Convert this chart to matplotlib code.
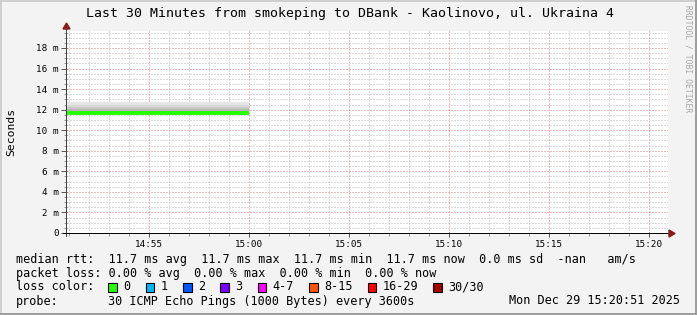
import matplotlib
matplotlib.use("Agg")
import matplotlib.pyplot as plt
from matplotlib.patches import Rectangle, Polygon
from matplotlib.transforms import Affine2D

# ---------------- data ----------------
title = "Last 30 Minutes from smokeping to DBank - Kaolinovo, ul. Ukraina 4"
# time in minutes after 14:00
seg_times = [50.9, 60.0]          # data segment (start of window .. 15:00)
median_ms = [11.7, 11.7]
smoke_tops_ms = [12.7, 12.5, 12.3, 12.1]   # smoke layers above the median
smoke_colors = ["#e6e6e6", "#d8d8d8", "#c8c8c8", "#b6b6b6"]
x_range = [50.9, 80.95]
y_range = [0, 19.65]
x_ticks = [55, 60, 65, 70, 75, 80]
x_labels = ["14:55", "15:00", "15:05", "15:10", "15:15", "15:20"]
y_ticks = [0, 2, 4, 6, 8, 10, 12, 14, 16, 18]
y_labels = ["0", "2 m", "4 m", "6 m", "8 m", "10 m", "12 m", "14 m", "16 m", "18 m"]
y_label = "Seconds"

legend_line1 = "median rtt:  11.7 ms avg  11.7 ms max  11.7 ms min  11.7 ms now  0.0 ms sd  -nan   am/s"
legend_line2 = "packet loss: 0.00 % avg  0.00 % max  0.00 % min  0.00 % now"
loss_labels = ["0", "1", "2", "3", "4-7", "8-15", "16-29", "30/30"]
loss_colors = ["#26ff00", "#00b8ff", "#0059ff", "#7e00ff", "#ff00ff", "#ff5500", "#ff0000", "#a00000"]
probe_text = "30 ICMP Echo Pings (1000 Bytes) every 3600s"
date_text = "Mon Dec 29 15:20:51 2025"
watermark = "RRDTOOL / TOBI OETIKER"

# ---------------- figure ----------------
W, H = 697, 315
DPI = 100
MONO = "DejaVu Sans Mono"
fig = plt.figure(figsize=(W / DPI, H / DPI), dpi=DPI, facecolor="#f3f3f3")
px = Affine2D().scale(1 / W, -1 / H).translate(0, 1) + fig.transFigure

L, R, T, B = 67, 668, 31, 233
ax = fig.add_axes([L / W, 1 - B / H, (R - L) / W, (B - T) / H])
ax.set_facecolor("white")
ax.set_xlim(*x_range)
ax.set_ylim(*y_range)

# grid
dot = (0, (1, 2))
ax.set_xticks(x_ticks)
ax.set_xticks([m for m in range(51, 81)], minor=True)
ax.set_yticks(y_ticks)
ax.set_yticks([v * 0.5 for v in range(1, 40)], minor=True)
ax.grid(which="minor", color="#b8b8b8", linestyle=dot, linewidth=0.72)
ax.grid(which="major", color="#e08080", linestyle=dot, linewidth=0.72)
ax.set_axisbelow(True)

# smoke + median
for top, col in zip(smoke_tops_ms, smoke_colors):
    ax.fill_between(seg_times, median_ms, [top] * len(seg_times), color=col, linewidth=0, zorder=2)
ax.plot(seg_times, median_ms, color="#26ff00", linewidth=2.8, solid_capstyle="butt", zorder=3)

for s in ax.spines.values():
    s.set_visible(False)

ax.set_xticklabels(x_labels, fontsize=6.7, family=MONO)
ax.set_yticklabels(y_labels, fontsize=6.7, family=MONO)
ax.tick_params(axis="y", which="major", length=4, width=0.7, color="#555555", pad=2)
ax.tick_params(axis="y", which="minor", length=2, width=0.7, color="#999999")
ax.tick_params(axis="x", which="major", length=3, width=0.7, color="#555555", pad=2)
ax.tick_params(axis="x", which="minor", length=2, width=0.7, color="#999999")

# axes lines with arrows
fig.add_artist(Rectangle((L - 1, T - 3), 1, (B + 4) - (T - 3), transform=px,
                         facecolor="#404040", linewidth=0, zorder=5))
fig.add_artist(Rectangle((L - 4, B), (R + 3) - (L - 4), 1, transform=px,
                         facecolor="#000000", linewidth=0, zorder=5))
fig.add_artist(Polygon([[L - 4, T - 2], [L + 3, T - 2], [L - 0.5, T - 8]], closed=True,
                       transform=px, color="#8b1a1a", zorder=5))
fig.add_artist(Polygon([[R + 1, B - 3], [R + 1, B + 4], [R + 7, B + 0.5]], closed=True,
                       transform=px, color="#8b1a1a", zorder=5))

# texts
fig.text(350, 13.5, title, transform=px, ha="center", va="center", fontsize=9.5, family=MONO)
fig.text(11, 132, y_label, transform=px, ha="center", va="center", rotation=90, fontsize=8.2, family=MONO)
fig.text(688, 5, watermark, transform=px, ha="center", va="top", rotation=270, fontsize=5.8,
         family=MONO, color="#a8a8a8")

cw = 7.05
fs = 8.45
fig.text(16, 259.5, legend_line1, transform=px, ha="left", va="center", fontsize=fs, family=MONO)
fig.text(16, 273.5, legend_line2, transform=px, ha="left", va="center", fontsize=fs, family=MONO)
fig.text(16, 287, "loss color:", transform=px, ha="left", va="center", fontsize=fs, family=MONO)
bx = 108.3
for lab, col in zip(loss_labels, loss_colors):
    fig.add_artist(Rectangle((bx, 291.5), 8.5, -9, transform=px, facecolor=col,
                             edgecolor="black", linewidth=0.8))
    fig.text(bx + 15, 287, lab, transform=px, ha="left", va="center", fontsize=fs, family=MONO)
    bx = bx + 15 + len(lab) * cw + 15.3
fig.text(16, 301, "probe:", transform=px, ha="left", va="center", fontsize=fs, family=MONO)
fig.text(107.6, 301, probe_text, transform=px, ha="left", va="center", fontsize=fs, family=MONO)
fig.text(680, 301, date_text, transform=px, ha="right", va="center", fontsize=fs, family=MONO)

# frame
fig.add_artist(Rectangle((0, 0), W, 2, transform=px, facecolor="#cfcfcf", linewidth=0))
fig.add_artist(Rectangle((0, 0), 2, H, transform=px, facecolor="#cfcfcf", linewidth=0))
fig.add_artist(Rectangle((0, H - 2), W, 2, transform=px, facecolor="#9e9e9e", linewidth=0))
fig.add_artist(Rectangle((W - 2, 0), 2, H, transform=px, facecolor="#9e9e9e", linewidth=0))

fig.savefig("out.png", dpi=DPI, facecolor=fig.get_facecolor())
